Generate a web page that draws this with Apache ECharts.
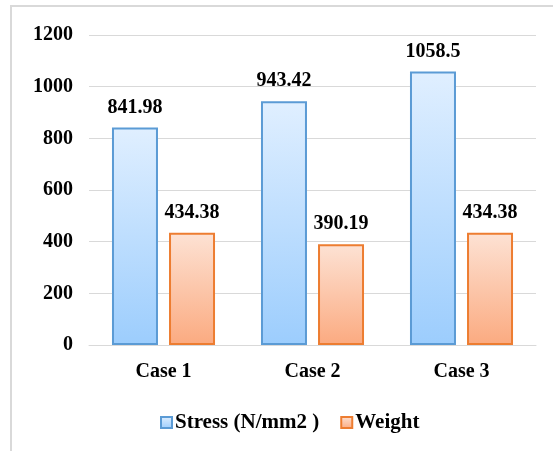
<!DOCTYPE html>
<html>
<head>
<meta charset="utf-8">
<script src="https://cdn.jsdelivr.net/npm/echarts@6/dist/echarts.min.js"></script>
<style>
html, body { margin: 0; padding: 0; background: #fff; }
#chart { width: 553px; height: 451px; }
</style>
</head>
<body>
<div id="chart"></div>
<script>
var categories = ['Case 1', 'Case 2', 'Case 3'];
var stress = [841.98, 943.42, 1058.5];
var weight = [434.38, 390.19, 434.38];
var yTicks = [0, 200, 400, 600, 800, 1000, 1200];

var font = '"Liberation Serif", "DejaVu Serif", serif';

echarts.init(document.getElementById('chart')).setOption({
    animation: false,
    graphic: [
        {
            type: 'polyline',
            shape: { points: [[11, 451], [11, 6], [553, 6]] },
            style: { stroke: '#d9d9d9', lineWidth: 2, fill: null }
        }
    ],
    legend: {
        data: ['Stress (N/mm2 )', 'Weight'],
        icon: 'rect',
        left: 155,
        top: 407,
        itemWidth: 11,
        itemHeight: 11,
        itemGap: 21,
        textStyle: {
            fontFamily: font,
            fontWeight: 'bold',
            fontSize: 21,
            color: '#000',
            padding: [0, 0, 0, -2]
        }
    },
    grid: {
        left: 89,
        right: 17,
        top: 35,
        bottom: 106
    },
    xAxis: {
        type: 'category',
        data: categories,
        axisTick: { show: false },
        axisLine: { lineStyle: { color: '#d9d9d9' } },
        axisLabel: {
            margin: 17,
            fontFamily: font,
            fontWeight: 'bold',
            fontSize: 20,
            color: '#000'
        }
    },
    yAxis: {
        type: 'value',
        min: yTicks[0],
        max: yTicks[yTicks.length - 1],
        interval: 200,
        axisLabel: {
            margin: 16,
            fontFamily: font,
            fontWeight: 'bold',
            fontSize: 20,
            color: '#000',
            formatter: function (value) {
                return String(value);
            }
        },
        splitLine: { lineStyle: { color: '#d9d9d9' } }
    },
    series: [
        {
            name: 'Stress (N/mm2 )',
            type: 'bar',
            data: stress,
            barWidth: 46,
            barGap: '24%',
            itemStyle: {
                color: new echarts.graphic.LinearGradient(0, 0, 0, 1, [
                    { offset: 0, color: '#e0efff' },
                    { offset: 1, color: '#9ccdfd' }
                ]),
                borderColor: '#5b9bd5',
                borderWidth: 2
            },
            label: {
                show: true,
                position: 'top',
                distance: 10,
                fontFamily: font,
                fontWeight: 'bold',
                fontSize: 20,
                color: '#000'
            }
        },
        {
            name: 'Weight',
            type: 'bar',
            data: weight,
            barWidth: 46,
            itemStyle: {
                color: new echarts.graphic.LinearGradient(0, 0, 0, 1, [
                    { offset: 0, color: '#fde2d4' },
                    { offset: 1, color: '#fbaa80' }
                ]),
                borderColor: '#ed7d31',
                borderWidth: 2
            },
            label: {
                show: true,
                position: 'top',
                distance: 10,
                fontFamily: font,
                fontWeight: 'bold',
                fontSize: 20,
                color: '#000'
            }
        }
    ]
});
</script>
</body>
</html>
